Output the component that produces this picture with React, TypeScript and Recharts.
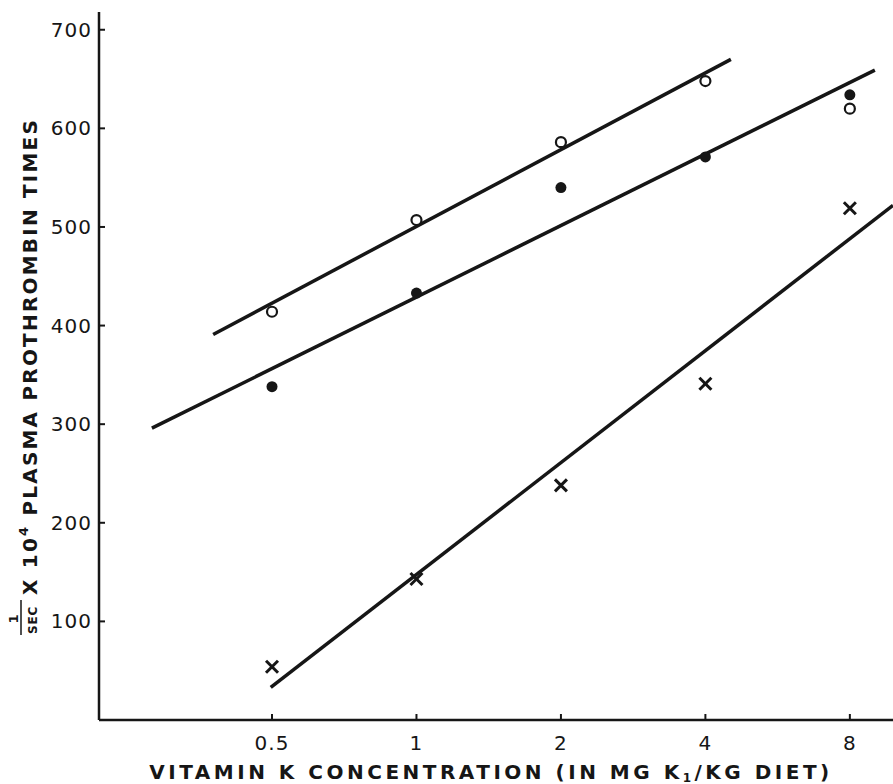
import { ScatterChart, Scatter, XAxis, YAxis, ReferenceLine } from 'recharts'

// vitamin K dose, mg K1 / kg diet (log scale)
const doses = [0.5, 1, 2, 4, 8]
const yTicks = [100, 200, 300, 400, 500, 600, 700]

// 1/sec x 10^4 plasma prothrombin times
const openCircles = [414, 507, 586, 648, 620]
const filledCircles = [338, 433, 540, 571, 634]
const crosses = [54, 143, 238, 341, 519]

// fitted lines, start and end as [dose, value]
const openFit = [[0.377, 391], [4.52, 670]]
const filledFit = [[0.281, 296], [9.02, 659]]
const crossFit = [[0.497, 33], [9.84, 522]]

const INK = '#161616'
const FONT = '"DejaVu Sans", "Liberation Sans", sans-serif'

const toPoints = (vals: number[]) => doses.map((x, i) => ({ x, y: vals[i] }))
const toSegment = (fit: number[][]) => fit.map(([x, y]) => ({ x, y }))

const OpenDot = (p: any) => (
  <circle cx={p.cx} cy={p.cy} r={5} fill="#fff" stroke={INK} strokeWidth={2.2} />
)
const FilledDot = (p: any) => <circle cx={p.cx} cy={p.cy} r={5.5} fill={INK} />
const Cross = (p: any) => (
  <g stroke={INK} strokeWidth={3} strokeLinecap="butt">
    <line x1={p.cx - 6} y1={p.cy - 6} x2={p.cx + 6} y2={p.cy + 6} />
    <line x1={p.cx - 6} y1={p.cy + 6} x2={p.cx + 6} y2={p.cy - 6} />
  </g>
)

function XTitle(props: any) {
  const vb = props.viewBox
  return (
    <text
      x={vb.x + vb.width / 2 - 5}
      y={vb.y + vb.height - 5}
      textAnchor="middle"
      fontFamily={FONT}
      fontWeight="bold"
      fontSize={20}
      letterSpacing={3.5}
      fill={INK}
    >
      VITAMIN K CONCENTRATION (IN MG K<tspan fontSize={12} dy={3}>1</tspan>
      <tspan dy={-3}>/KG DIET)</tspan>
    </text>
  )
}

function YTitle() {
  // rotated frame: local x runs up the page, local y runs to the right
  return (
    <g transform="translate(30, 378) rotate(-90)" fill={INK} fontFamily={FONT} fontWeight="bold">
      <text x={-241} y={-12} fontSize={13} textAnchor="middle">1</text>
      <line x1={-257} y1={-9} x2={-222} y2={-9} stroke={INK} strokeWidth={1.5} />
      <text x={-256} y={7} fontSize={12} letterSpacing={0.8}>SEC</text>
      <text x={-217} y={7} fontSize={20} letterSpacing={2.2}>
        X 10<tspan fontSize={13} dy={-9}>4</tspan>
        <tspan dy={9}> PLASMA PROTHROMBIN TIMES</tspan>
      </text>
    </g>
  )
}

export default function App() {
  return (
    <div style={{ position: 'absolute', left: 0, top: 0, width: 893, height: 784, background: '#fff' }}>
      <ScatterChart width={893} height={784} margin={{ top: 12, right: 0, bottom: 0, left: 0 }}>
        <XAxis
          dataKey="x"
          type="number"
          scale="log"
          domain={[0.218, 9.84]}
          ticks={doses}
          allowDataOverflow
          height={64}
          axisLine={{ stroke: INK, strokeWidth: 2.5 }}
          tickLine={{ stroke: INK, strokeWidth: 2 }}
          tickSize={-6}
          tickMargin={22}
          tick={{ fill: INK, fontSize: 20, fontFamily: FONT, letterSpacing: 1 }}
          tickFormatter={(v: number) => String(v)}
          label={<XTitle />}
        />
        <YAxis
          dataKey="y"
          type="number"
          domain={[0, 718]}
          ticks={yTicks}
          allowDataOverflow
          width={99}
          axisLine={{ stroke: INK, strokeWidth: 2.5 }}
          tickLine={{ stroke: INK, strokeWidth: 2 }}
          tickSize={-6}
          tickMargin={13}
          tick={{ fill: INK, fontSize: 20, fontFamily: FONT, letterSpacing: 1 }}
          label={<YTitle />}
        />
        <ReferenceLine segment={toSegment(openFit)} stroke={INK} strokeWidth={3.5} ifOverflow="visible" />
        <ReferenceLine segment={toSegment(filledFit)} stroke={INK} strokeWidth={3.5} ifOverflow="visible" />
        <ReferenceLine segment={toSegment(crossFit)} stroke={INK} strokeWidth={3.5} ifOverflow="visible" />
        <Scatter data={toPoints(openCircles)} shape={OpenDot} isAnimationActive={false} />
        <Scatter data={toPoints(filledCircles)} shape={FilledDot} isAnimationActive={false} />
        <Scatter data={toPoints(crosses)} shape={Cross} isAnimationActive={false} />
      </ScatterChart>
    </div>
  )
}
